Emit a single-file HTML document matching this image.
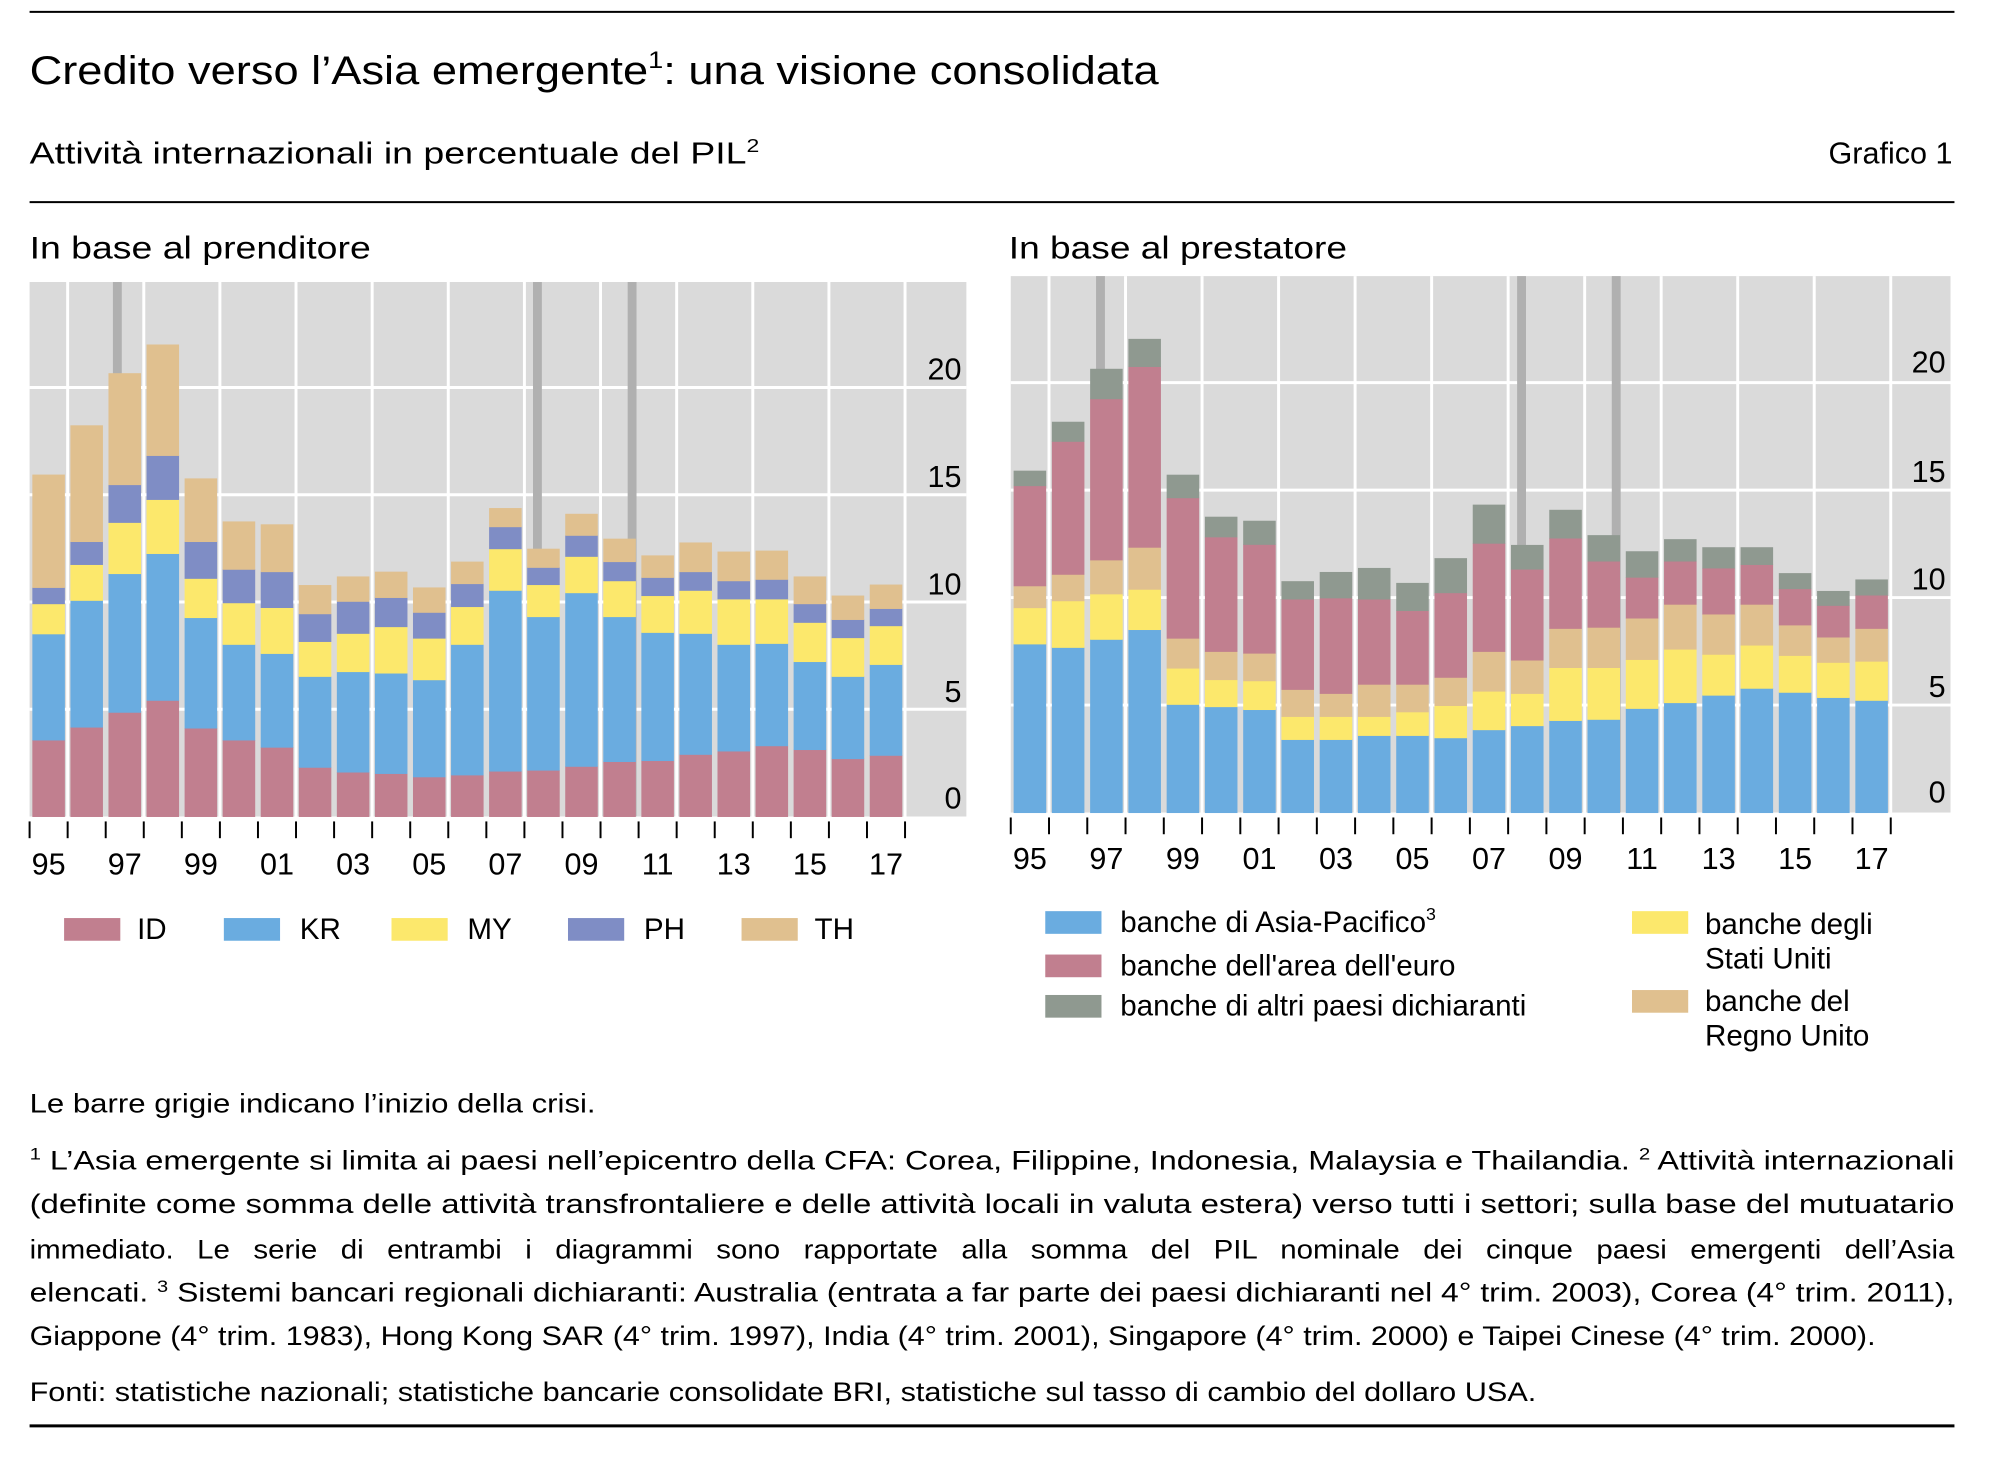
<!DOCTYPE html>
<html><head><meta charset="utf-8"><style>
html,body{margin:0;padding:0;background:#fff;}
svg{display:block;font-family:"Liberation Sans",sans-serif;}
</style></head><body>
<svg id="s" width="2006" height="1465" viewBox="0 0 2006 1465" xmlns="http://www.w3.org/2000/svg">
<rect width="2006" height="1465" fill="#fff"/>
<g transform="scale(0.9861)">
<line x1="30" y1="12" x2="1982" y2="12" stroke="#000" stroke-width="2"/>
<line x1="30" y1="205" x2="1982" y2="205" stroke="#000" stroke-width="2"/>
<line x1="30" y1="1446" x2="1982" y2="1446" stroke="#000" stroke-width="3"/>
<text x="30" y="85" font-size="40" textLength="1145" lengthAdjust="spacingAndGlyphs">Credito verso l’Asia emergente<tspan font-size="24" dy="-16">1</tspan><tspan dy="16">: una visione consolidata</tspan></text>
<text x="30" y="166" font-size="31" textLength="740" lengthAdjust="spacingAndGlyphs">Attività internazionali in percentuale del PIL<tspan font-size="19" dy="-12">2</tspan></text>
<text x="1980" y="166" font-size="31" text-anchor="end">Grafico 1</text>
<text x="30" y="262" font-size="32" textLength="346" lengthAdjust="spacingAndGlyphs">In base al prenditore</text>
<text x="1023" y="262" font-size="32" textLength="343" lengthAdjust="spacingAndGlyphs">In base al prestatore</text>
<g id="L"></g><g id="R"></g>
<g font-size="30">
<rect x="65" y="931" width="57" height="23" fill="#c17f8f"/><text x="139" y="952">ID</text>
<rect x="227" y="931" width="57" height="23" fill="#6aace0"/><text x="304" y="952">KR</text>
<rect x="397" y="931" width="57" height="23" fill="#fce86c"/><text x="474" y="952">MY</text>
<rect x="576" y="931" width="57" height="23" fill="#7f8dc5"/><text x="653" y="952">PH</text>
<rect x="752" y="931" width="57" height="23" fill="#e0c08f"/><text x="826" y="952">TH</text>
<rect x="1060" y="924" width="57" height="23" fill="#6aace0"/><text x="1136" y="945">banche di Asia-Pacifico<tspan font-size="18" dy="-12">3</tspan></text>
<rect x="1060" y="968" width="57" height="23" fill="#c17f8f"/><text x="1136" y="989">banche dell'area dell'euro</text>
<rect x="1060" y="1009" width="57" height="23" fill="#8f9990"/><text x="1136" y="1030">banche di altri paesi dichiaranti</text>
<rect x="1655" y="924" width="57" height="23" fill="#fce86c"/><text x="1729" y="947">banche degli</text><text x="1729" y="982">Stati Uniti</text>
<rect x="1655" y="1004" width="57" height="23" fill="#e0c08f"/><text x="1729" y="1025">banche del</text><text x="1729" y="1060">Regno Unito</text>
</g>
<g font-size="27">
<text x="30" y="1128" textLength="574" lengthAdjust="spacingAndGlyphs">Le barre grigie indicano l’inizio della crisi.</text>
<text x="30" y="1186" textLength="1952" lengthAdjust="spacingAndGlyphs"><tspan font-size="17" dy="-10">1</tspan><tspan dy="10"> L’Asia emergente si limita ai paesi nell’epicentro della CFA: Corea, Filippine, Indonesia, Malaysia e Thailandia.    </tspan><tspan font-size="17" dy="-10">2</tspan><tspan dy="10"> Attività internazionali</tspan></text>
<text x="30" y="1230" textLength="1952" lengthAdjust="spacingAndGlyphs">(definite come somma delle attività transfrontaliere e delle attività locali in valuta estera) verso tutti i settori; sulla base del mutuatario</text>
<text x="30" y="1276" textLength="1952" lengthAdjust="spacingAndGlyphs" word-spacing="14">immediato. Le serie di entrambi i diagrammi sono rapportate alla somma del PIL nominale dei cinque paesi emergenti dell’Asia</text>
<text x="30" y="1320" textLength="1952" lengthAdjust="spacingAndGlyphs">elencati.    <tspan font-size="17" dy="-10">3</tspan><tspan dy="10"> Sistemi bancari regionali dichiaranti: Australia (entrata a far parte dei paesi dichiaranti nel 4° trim. 2003), Corea (4° trim. 2011),</tspan></text>
<text x="30" y="1364" textLength="1872" lengthAdjust="spacingAndGlyphs">Giappone (4° trim. 1983), Hong Kong SAR (4° trim. 1997), India (4° trim. 2001), Singapore (4° trim. 2000) e Taipei Cinese (4° trim. 2000).</text>
<text x="30" y="1421" textLength="1528" lengthAdjust="spacingAndGlyphs">Fonti: statistiche nazionali; statistiche bancarie consolidate BRI, statistiche sul tasso di cambio del dollaro USA.</text>
</g>
</g>
</svg>
<script>
var NS="http://www.w3.org/2000/svg";
function el(p,t,a,txt){var e=document.createElementNS(NS,t);for(var k in a)e.setAttribute(k,a[k]);if(txt!=null)e.textContent=txt;p.appendChild(e);return e;}
var Ld=[[1130,908,845,811,575],[1103,838,763,715,472],[1072,782,675,596,363],[1047,740,627,535,303],[1105,874,792,715,583],[1130,930,843,773,673],[1145,949,853,778,679],[1187,997,924,866,806],[1197,987,907,840,788],[1200,990,893,832,778],[1207,1004,917,863,811],[1203,930,851,803,757],[1195,817,730,684,645],[1193,872,805,769,730],[1185,822,746,702,657],[1175,872,797,757,709],[1173,905,828,790,744],[1160,907,817,778,717],[1153,930,835,797,736],[1142,928,835,794,734],[1150,966,884,845,788],[1169,997,916,878,828],[1162,972,891,855,805]];
var Rd=[[773,710,672,498,472],[779,698,652,421,387],[765,686,627,347,295],[748,678,605,291,243],[878,815,763,519,479],[882,835,786,587,552],[887,837,789,600,559],[939,899,852,695,664],[939,899,859,693,648],[932,899,843,695,641],[932,891,843,715,667],[936,880,831,684,624],[922,855,786,598,531],[915,859,801,643,601],[906,814,746,589,540],[904,814,744,629,584],[885,800,728,657,612],[875,782,704,629,591],[862,791,721,641,605],[850,775,704,635,605],[857,793,740,677,650],[866,805,761,706,681],[871,803,746,688,661]];
function chart(g,o){
 el(g,"rect",{x:o.x0,y:o.top,width:o.right-o.x0,height:o.zero-o.top,fill:"#dadada"});
 for(var v=5;v<=20;v+=5){var y=o.zero-v*o.pu;el(g,"line",{x1:o.x0,x2:o.right,y1:y,y2:y,stroke:"#fff","stroke-width":3});}
 for(var k=1;k<=11;k++){var x=o.x0+o.sw*(2*k-1);el(g,"line",{x1:x,x2:x,y1:o.top,y2:o.zero,stroke:"#fff","stroke-width":3});}
 var xe=o.x0+o.sw*23;el(g,"line",{x1:xe,x2:xe,y1:o.top,y2:o.zero,stroke:"#fff","stroke-width":3});
 o.cr.forEach(function(c){el(g,"rect",{x:c-4.5,y:o.top,width:9,height:o.zero-o.top,fill:"#b0b0b0"});});
 o.d.forEach(function(b,i){var bx=o.x0+o.sw*i+(o.sw-33)/2;var prev=o.zero;
  b.forEach(function(zy,j){var y=o.zero-(o.z0-zy)/o.zs*o.pu;el(g,"rect",{x:bx,y:y,width:33,height:prev-y+0.5,fill:o.c[j]});prev=y;});});
 [0,5,10,15,20].forEach(function(v,i){el(g,"text",{x:o.lx,y:o.ly[i]+11,"font-size":31,"text-anchor":"end"},String(v));});
 for(var i=0;i<=23;i++){var x=o.x0+o.sw*i;el(g,"line",{x1:x,x2:x,y1:o.zero+5,y2:o.zero+22,stroke:"#000","stroke-width":2});}
 var labs=["95","97","99","01","03","05","07","09","11","13","15","17"];
 labs.forEach(function(l,k){el(g,"text",{x:o.x0+o.sw*(2*k+0.5),y:o.xly,"font-size":31,"text-anchor":"middle"},l);});
}
chart(document.getElementById("L"),{x0:30,right:980,top:286,zero:828,pu:21.75,sw:38.6,z0:1290,zs:44.85,d:Ld,
 c:["#c17f8f","#6aace0","#fce86c","#7f8dc5","#e0c08f"],cr:[119,545,641],lx:975,ly:[809,701,592,483,374],xly:887});
chart(document.getElementById("R"),{x0:1025,right:1978,top:280,zero:824,pu:21.8,sw:38.8,z0:1066,zs:37.35,d:Rd,
 c:["#6aace0","#fce86c","#e0c08f","#c17f8f","#8f9990"],cr:[1116,1543,1639],lx:1973,ly:[803,696,587,478,367],xly:881});
</script>
</body></html>
